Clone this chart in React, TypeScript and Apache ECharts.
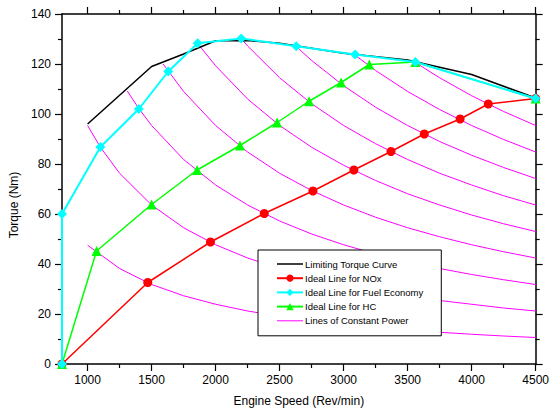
import React, { useEffect, useRef } from "react";
import * as echarts from "echarts";

// ---- data ----
const limitingTorque: number[][] = [
  [1000, 96], [1500, 119], [1750, 124], [2000, 129.3], [2250, 129.4], [2500, 128.3],
  [3000, 124.3], [3500, 121.6], [4000, 115.8], [4500, 106.4],
];
const idealNOx: number[][] = [
  [800, 0], [1470, 32.6], [1960, 48.8], [2380, 60.2], [2760, 69.2], [3080, 77.6],
  [3370, 85], [3630, 92], [3910, 98], [4130, 104], [4500, 106.2],
];
const idealFuelEconomy: number[][] = [
  [800, 0], [800, 60], [1100, 86.8], [1400, 102], [1630, 117], [1860, 128.3],
  [2200, 130.2], [2630, 127.1], [3090, 123.8], [3560, 120.8], [4500, 106.2],
];
const idealHC: number[][] = [
  [800, 0], [1070, 45.2], [1500, 63.8], [1855, 77.6], [2190, 87.4], [2480, 96.6],
  [2730, 105.1], [2980, 112.6], [3200, 119.8], [3560, 120.8], [4500, 106.2],
];

const power5: number[][] = [
  [1000, 47.5], [1250, 38.2], [1500, 31.8], [1750, 27.3], [2000, 23.9], [2250, 21.2],
  [2500, 19.1], [2750, 17.3], [3000, 15.9], [3250, 14.7], [3500, 13.6], [3750, 12.7],
  [4000, 11.9], [4250, 11.2], [4500, 10.6],
];
const power10: number[][] = [
  [1000, 95.4], [1100, 86.7], [1250, 76.3], [1500, 63.6], [1750, 54.5], [2000, 47.7],
  [2250, 42.4], [2500, 38.2], [2750, 34.7], [3000, 31.8], [3250, 29.4], [3500, 27.3],
  [3750, 25.4], [4000, 23.9], [4250, 22.4], [4500, 21.2],
];
const power15: number[][] = [
  [1310, 109.2], [1400, 102.2], [1500, 95.4], [1750, 81.8], [2000, 71.6], [2250, 63.6],
  [2500, 57.2], [2750, 52.0], [3000, 47.7], [3250, 44.0], [3500, 40.9], [3750, 38.2],
  [4000, 35.8], [4250, 33.7], [4500, 31.8],
];
const power20: number[][] = [
  [1590, 120], [1750, 109], [2000, 95.4], [2250, 84.8], [2500, 76.3], [2750, 69.4],
  [3000, 63.6], [3250, 58.7], [3500, 54.5], [3750, 50.9], [4000, 47.7], [4250, 44.9],
  [4500, 42.4],
];
const power25: number[][] = [
  [1860, 128.2], [2000, 119.3], [2250, 106], [2500, 95.4], [2750, 86.7], [3000, 79.5],
  [3250, 73.4], [3500, 68.1], [3750, 63.6], [4000, 59.6], [4250, 56.1], [4500, 53.0],
];
const power30: number[][] = [
  [2200, 130.1], [2250, 127.2], [2500, 114.5], [2750, 104.1], [3000, 95.4], [3250, 88.1],
  [3500, 81.8], [3750, 76.3], [4000, 71.6], [4250, 67.3], [4500, 63.6],
];
const power35: number[][] = [
  [2630, 127], [2750, 121.4], [3000, 111.3], [3250, 102.7], [3500, 95.4], [3750, 89],
  [4000, 83.5], [4250, 78.6], [4500, 74.2],
];
const power40: number[][] = [
  [3080, 123.9], [3250, 117.4], [3500, 109], [3750, 101.8], [4000, 95.4], [4250, 89.8],
  [4500, 84.8],
];
const power45: number[][] = [
  [3560, 120.6], [3750, 114.5], [4000, 107.3], [4250, 101], [4500, 95.4],
];
const constantPowerLines = [power5, power10, power15, power20, power25, power30, power35, power40, power45];

const xMajorTicks = [1000, 1500, 2000, 2500, 3000, 3500, 4000, 4500];
const xMinorTicks = [1250, 1750, 2250, 2750, 3250, 3750, 4250];

const FONT = "'Liberation Sans', Arial, sans-serif";
const LINE_ICON = "path://M0,0 L26,0 L26,1.5 L0,1.5 Z";
const THIN_ICON = "path://M0,0 L26,0 L26,1 L0,1 Z";

export default function App() {
  const ref = useRef<HTMLDivElement>(null);
  useEffect(() => {
    if (!ref.current) return;
    const chart = echarts.init(ref.current, undefined, { renderer: "svg" });
    const axisLine = { show: true, lineStyle: { color: "#000", width: 1.5 } };
    const baseX = { type: "value", min: 800, max: 4500, splitLine: { show: false } };
    const plain = (v: number) => String(v);
    const option: any = {
      animation: false,
      backgroundColor: "#fff",
      textStyle: { fontFamily: FONT },
      grid: { left: 62, right: 15, top: 14, bottom: 47, containLabel: false },
      legend: {
        orient: "vertical",
        left: 258,
        top: 250,
        padding: [9, 18, 10, 18],
        backgroundColor: "#fff",
        borderColor: "#000",
        borderWidth: 1,
        itemWidth: 26,
        itemHeight: 9,
        itemGap: 4.2,
        textStyle: { fontFamily: FONT, fontSize: 9.5, color: "#000", padding: [0, 0, 0, -3] },
        data: [
          { name: "Limiting Torque Curve", icon: LINE_ICON },
          "Ideal Line for NOx",
          "Ideal Line for Fuel Economy",
          "Ideal Line for HC",
          { name: "Lines of Constant Power", icon: THIN_ICON },
        ],
      },
      xAxis: [
        {
          ...baseX,
          position: "bottom",
          name: "Engine Speed (Rev/min)",
          nameLocation: "middle",
          nameGap: 31,
          nameTextStyle: { fontFamily: FONT, fontSize: 12, color: "#000" },
          axisLine,
          axisTick: { show: true, inside: false, length: 7, customValues: xMajorTicks, lineStyle: { color: "#000", width: 1.2 } },
          axisLabel: { show: true, customValues: xMajorTicks, formatter: plain, margin: 10, fontFamily: FONT, fontSize: 12, color: "#000" },
        },
        {
          ...baseX,
          position: "bottom",
          axisLine: { show: false },
          axisTick: { show: true, inside: false, length: 4, customValues: xMinorTicks, lineStyle: { color: "#000", width: 1.2 } },
          axisLabel: { show: false },
        },
        {
          ...baseX,
          position: "top",
          axisLine,
          axisTick: { show: true, inside: false, length: 7, customValues: xMajorTicks, lineStyle: { color: "#000", width: 1.2 } },
          axisLabel: { show: false },
        },
        {
          ...baseX,
          position: "top",
          axisLine: { show: false },
          axisTick: { show: true, inside: false, length: 4, customValues: xMinorTicks, lineStyle: { color: "#000", width: 1.2 } },
          axisLabel: { show: false },
        },
      ],
      yAxis: [
        {
          type: "value",
          position: "left",
          min: 0,
          max: 140,
          interval: 20,
          name: "Torque (Nm)",
          nameLocation: "middle",
          nameGap: 39,
          nameTextStyle: { fontFamily: FONT, fontSize: 12, color: "#000", padding: [0, 32, 0, 0] },
          splitLine: { show: false },
          axisLine,
          axisTick: { show: true, inside: false, length: 7, lineStyle: { color: "#000", width: 1.2 } },
          minorTick: { show: true, splitNumber: 2, length: 4, lineStyle: { color: "#000", width: 1.2 } },
          axisLabel: { margin: 11, formatter: plain, fontFamily: FONT, fontSize: 12, color: "#000" },
        },
        {
          type: "value",
          position: "right",
          min: 0,
          max: 140,
          interval: 20,
          splitLine: { show: false },
          axisLine,
          axisTick: { show: true, inside: false, length: 7, lineStyle: { color: "#000", width: 1.2 } },
          minorTick: { show: true, splitNumber: 2, length: 4, lineStyle: { color: "#000", width: 1.2 } },
          axisLabel: { show: false },
        },
      ],
      series: [
        ...constantPowerLines.map((d) => ({
          type: "line",
          name: "Lines of Constant Power",
          data: d,
          symbol: "none",
          color: "#ff00ff",
          itemStyle: { color: "#ff00ff" },
          lineStyle: { color: "#ff00ff", width: 1 },
          z: 1,
        })),
        {
          type: "line",
          name: "Limiting Torque Curve",
          data: limitingTorque,
          symbol: "none",
          color: "#000",
          itemStyle: { color: "#000" },
          lineStyle: { color: "#000", width: 1.5 },
          z: 2,
        },
        {
          type: "line",
          name: "Ideal Line for NOx",
          data: idealNOx,
          symbol: "circle",
          symbolSize: 9,
          color: "#ff0000",
          itemStyle: { color: "#ff0000" },
          lineStyle: { color: "#ff0000", width: 1.5 },
          z: 3,
        },
        {
          type: "line",
          name: "Ideal Line for HC",
          data: idealHC,
          symbol: "triangle",
          symbolSize: 10,
          color: "#00ff00",
          itemStyle: { color: "#00ff00" },
          lineStyle: { color: "#00ff00", width: 1.5 },
          z: 4,
        },
        {
          type: "line",
          name: "Ideal Line for Fuel Economy",
          data: idealFuelEconomy,
          symbol: "diamond",
          symbolSize: 10,
          color: "#00ffff",
          itemStyle: { color: "#00ffff" },
          lineStyle: { color: "#00ffff", width: 2 },
          z: 5,
        },
      ],
    };
    chart.setOption(option);
    return () => chart.dispose();
  }, []);
  return (
    <div
      ref={ref}
      style={{ position: "absolute", left: 0, top: 0, width: 552, height: 412, background: "#fff" }}
    />
  );
}
